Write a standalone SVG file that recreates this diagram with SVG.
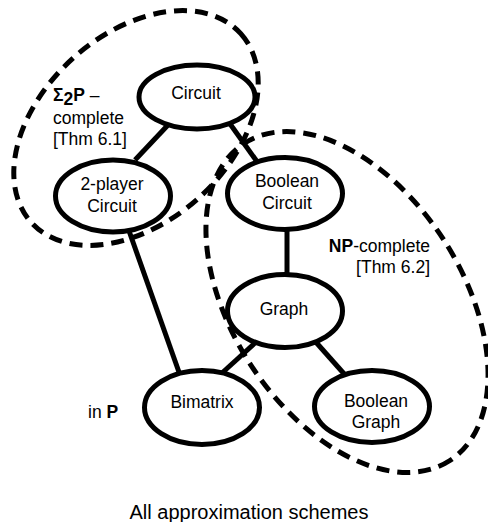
<svg xmlns="http://www.w3.org/2000/svg" width="488" height="522" viewBox="0 0 488 522">
<style>
  .region { fill: none; stroke: #000; stroke-width: 5; stroke-dasharray: 13 8; }
  .edge { stroke: #000; stroke-width: 5; }
  .node ellipse { fill: #fff; stroke: #000; stroke-width: 5; }
  text { font-family: "Liberation Sans", Arial, sans-serif; font-size: 17.5px; fill: #000; }
  .node text { text-anchor: middle; }
  .b { font-weight: bold; }
</style>
<rect width="488" height="522" fill="#fff"/>
<g id="regions">
  <ellipse class="region" cx="136" cy="128" rx="141" ry="94" transform="rotate(-42 136 128)"/>
  <ellipse class="region" cx="347" cy="302" rx="189" ry="115" transform="rotate(57 347 302)"/>
</g>
<g id="connectors">
  <line class="edge" x1="168" y1="125" x2="135" y2="160"/>
  <line class="edge" x1="228" y1="121" x2="258" y2="163"/>
  <line class="edge" x1="287" y1="225" x2="287" y2="280"/>
  <line class="edge" x1="314" y1="340" x2="346" y2="376"/>
  <line class="edge" x1="256" y1="342" x2="222" y2="373"/>
  <line class="edge" x1="128" y1="228" x2="180" y2="375"/>
</g>
<g id="circuit" class="node">
  <ellipse cx="197" cy="97" rx="58" ry="32"/>
  <text x="196" y="99">Circuit</text>
</g>
<g id="two-player-circuit" class="node">
  <ellipse cx="113" cy="196" rx="57.5" ry="36"/>
  <text x="112" y="190">2-player</text>
  <text x="112" y="212">Circuit</text>
</g>
<g id="boolean-circuit" class="node">
  <ellipse cx="285" cy="193.5" rx="57.5" ry="36"/>
  <text x="287" y="187">Boolean</text>
  <text x="287" y="209">Circuit</text>
</g>
<g id="graph" class="node">
  <ellipse cx="285" cy="311" rx="57.5" ry="36.5"/>
  <text x="284" y="315">Graph</text>
</g>
<g id="bimatrix" class="node">
  <ellipse cx="202" cy="407.5" rx="57.5" ry="37"/>
  <text x="202" y="408">Bimatrix</text>
</g>
<g id="boolean-graph" class="node">
  <ellipse cx="372" cy="406.5" rx="57.5" ry="36"/>
  <text x="376" y="407">Boolean</text>
  <text x="376" y="428">Graph</text>
</g>
<g id="labels">
  <text x="53" y="101"><tspan class="b">Σ</tspan><tspan class="b" dy="4">2</tspan><tspan class="b" dy="-4">P</tspan> –</text>
  <text x="53" y="124">complete</text>
  <text x="53" y="145">[Thm 6.1]</text>
  <text x="430" y="252" text-anchor="end"><tspan class="b">NP</tspan>-complete</text>
  <text x="430" y="273" text-anchor="end">[Thm 6.2]</text>
  <text x="88" y="418">in <tspan class="b">P</tspan></text>
  <text x="249" y="519" text-anchor="middle" style="font-size:20px">All approximation schemes</text>
</g>
</svg>
